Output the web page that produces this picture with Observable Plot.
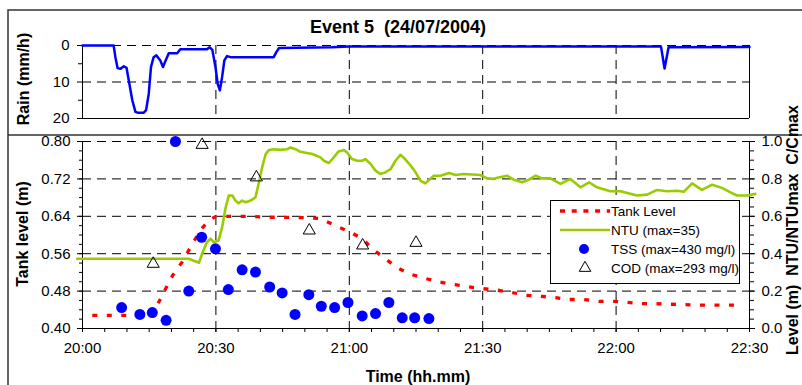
<!DOCTYPE html>
<html><head><meta charset="utf-8">
<script src="https://cdn.jsdelivr.net/npm/d3@7"></script>
<script src="https://cdn.jsdelivr.net/npm/@observablehq/plot@0.6"></script>
<style>
body{margin:0;background:#fff;}
#chart{position:relative;width:802px;height:385px;overflow:hidden;background:#fff;}
#chart svg{position:absolute;left:0;}
</style></head><body><div id="chart"></div>
<script>
// ---- data (minutes after 20:00) ----
const rainTime = [0, 7.0, 7.4, 7.9, 8.5, 9.3, 9.9, 10.4, 11.2, 11.9, 12.4, 13.8, 14.3, 14.9, 15.4, 16.0, 16.6, 17.5, 18.1, 18.7, 19.4, 21.3, 22.0, 28.0, 28.6, 29.2, 29.9, 30.4, 30.9, 31.4, 31.9, 32.5, 33.3, 43.0, 43.6, 44.2, 56.0, 60.0, 130.1, 130.9, 131.8, 150];
const rainValue = [0, 0, 3.2, 6.2, 6.4, 5.7, 6.1, 9.5, 15.0, 18.2, 18.4, 18.4, 17.7, 13.2, 5.9, 3.2, 2.7, 4.1, 5.9, 4.1, 2.1, 2.1, 1.0, 1.0, 0.5, 1.2, 5.9, 10.5, 12.3, 8.6, 4.1, 2.9, 3.2, 3.2, 1.8, 0.7, 0.5, 0.3, 0.3, 6.3, 0.5, 0.4];

const levelTime = [2.2, 15.3, 16.8, 18.7, 20.3, 22.4, 24.3, 26.5, 28.4, 30.0, 37.8, 40.8, 44.5, 50.6, 53.5, 56.9, 60.3, 62.9, 65.5, 68.1, 70.8, 73.8, 77.1, 80.5, 83.5, 86.9, 90.2, 93.3, 96.6, 99.8, 103.0, 106.4, 109.4, 112.7, 116.1, 119.5, 122.5, 125.6, 128.8, 132.0, 135.3, 138.6, 142.0, 145.0, 148.3];
const levelValue = [0.428, 0.428, 0.450, 0.485, 0.514, 0.542, 0.574, 0.610, 0.631, 0.640, 0.640, 0.638, 0.638, 0.637, 0.635, 0.620, 0.606, 0.592, 0.568, 0.549, 0.530, 0.516, 0.507, 0.499, 0.494, 0.489, 0.485, 0.482, 0.477, 0.471, 0.469, 0.466, 0.462, 0.462, 0.458, 0.458, 0.456, 0.453, 0.453, 0.452, 0.451, 0.450, 0.450, 0.450, 0.450];

const ntuTime = [-1.2, 23.9, 26.2, 26.9, 28.0, 28.8, 29.5, 30.6, 31.4, 32.2, 32.9, 33.7, 34.4, 35.1, 35.9, 36.7, 37.8, 38.9, 39.6, 40.4, 41.2, 41.9, 43.0, 44.5, 46.0, 46.8, 47.9, 49.0, 51.7, 53.5, 54.3, 55.4, 56.5, 57.6, 58.8, 59.5, 60.6, 61.8, 62.9, 63.6, 64.8, 65.9, 67.0, 68.1, 69.3, 70.4, 71.5, 72.3, 73.8, 74.9, 76.0, 77.1, 79.0, 80.5, 82.4, 83.9, 85.7, 89.5, 91.0, 92.4, 93.3, 95.5, 97.0, 98.9, 100.4, 101.9, 103.4, 105.2, 107.5, 109.7, 112.0, 113.9, 115.7, 118.7, 121.0, 124.7, 127.0, 129.2, 131.5, 133.7, 135.2, 137.1, 139.3, 141.6, 143.8, 145.7, 147.2, 149.5, 151.3];
const ntuValue = [0.373, 0.373, 0.352, 0.40, 0.462, 0.48, 0.462, 0.471, 0.542, 0.648, 0.711, 0.711, 0.684, 0.67, 0.684, 0.675, 0.684, 0.702, 0.773, 0.862, 0.933, 0.954, 0.959, 0.955, 0.959, 0.968, 0.959, 0.945, 0.933, 0.915, 0.897, 0.885, 0.915, 0.947, 0.954, 0.941, 0.906, 0.897, 0.897, 0.906, 0.88, 0.844, 0.826, 0.835, 0.853, 0.897, 0.929, 0.912, 0.871, 0.835, 0.791, 0.776, 0.817, 0.817, 0.831, 0.821, 0.826, 0.821, 0.803, 0.80, 0.806, 0.817, 0.796, 0.782, 0.796, 0.817, 0.803, 0.803, 0.773, 0.80, 0.755, 0.782, 0.755, 0.734, 0.734, 0.711, 0.716, 0.741, 0.734, 0.737, 0.731, 0.776, 0.741, 0.769, 0.752, 0.728, 0.711, 0.711, 0.72];

const tssTime = [8.8, 12.9, 15.7, 18.8, 20.9, 23.9, 26.8, 29.9, 32.8, 35.9, 38.9, 42.1, 44.9, 47.8, 50.9, 53.7, 56.7, 59.7, 62.9, 65.9, 68.9, 71.9, 74.7, 77.9];
const tssValue = [0.112, 0.075, 0.085, 0.044, 1.0, 0.2, 0.488, 0.426, 0.208, 0.314, 0.302, 0.222, 0.19, 0.075, 0.181, 0.119, 0.112, 0.139, 0.067, 0.08, 0.139, 0.057, 0.057, 0.053];

const codTime = [15.9, 26.9, 39.1, 51.0, 63.0, 75.0];
const codValue = [0.346, 0.982, 0.808, 0.524, 0.444, 0.458];

const timeTicks = [0, 30, 60, 90, 120, 150];
const timeTickLabels = ["20:00", "20:30", "21:00", "21:30", "22:00", "22:30"];
const levelTicks = [0.40, 0.48, 0.56, 0.64, 0.72, 0.80];
const levelTickLabels = ["0.40", "0.48", "0.56", "0.64", "0.72", "0.80"];
const ratioTicks = [0, 0.2, 0.4, 0.6, 0.8, 1.0];
const ratioTickLabels = ["0.0", "0.2", "0.4", "0.6", "0.8", "1.0"];
const rainTicks = [0, 10, 20];
const rainTickLabels = ["0", "10", "20"];

const title = "Event 5  (24/07/2004)";
const legendLabels = ["Tank Level", "NTU (max=35)", "TSS (max=430 mg/l)", "COD (max=293 mg/l)"];

// ---- build tables ----
const rain = rainTime.map((t, i) => ({t, v: rainValue[i]}));
const toRatio = m => (m - 0.40) / 0.40;
const level = levelTime.map((t, i) => ({t, v: toRatio(levelValue[i])}));
const ntu = ntuTime.map((t, i) => ({t, v: ntuValue[i]}));
const tss = tssTime.map((t, i) => ({t, v: tssValue[i]}));
const cod = codTime.map((t, i) => ({t, v: codValue[i]}));
const levelTickPos = levelTicks.map(toRatio);

const FONT = '"Liberation Sans", Arial, Helvetica, sans-serif';
const DASH = "9,6";
const gridStyle = {stroke: "#000", strokeOpacity: 1, strokeWidth: 1, strokeDasharray: DASH};
const baseStyle = {fontFamily: FONT, fontSize: "15px", color: "#000", background: "transparent", overflow: "visible"};
const GREEN = "#99cc00", RED = "#ff0000", BLUE = "#0000ff";

const chart = document.getElementById("chart");

// ---- top panel: rain ----
const topPlot = Plot.plot({
  width: 802, height: 135,
  marginLeft: 82, marginRight: 53, marginTop: 45, marginBottom: 17,
  style: baseStyle,
  x: {domain: [0, 150], axis: null},
  y: {domain: [0, 20], reverse: true, axis: null},
  marks: [
    Plot.gridY([0, 10], gridStyle),
    Plot.gridX([30, 60, 90, 120], gridStyle),
    Plot.ruleX([0], {stroke: "#000"}),
    Plot.ruleX([150], {stroke: "#000"}),
    Plot.ruleY([20], {stroke: "#000"}),
    Plot.axisY(rainTicks, {anchor: "left", tickSize: 5, tickPadding: 8, label: null,
      tickFormat: d => rainTickLabels[rainTicks.indexOf(d)]}),
    Plot.axisY([5, 15], {anchor: "left", tickSize: 4, label: null, tickFormat: () => ""}),
    Plot.line(rain, {x: "t", y: "v", stroke: BLUE, strokeWidth: 2.5, strokeLinejoin: "round"})
  ]
});
topPlot.style.top = "0px";
chart.appendChild(topPlot);

// ---- bottom panel ----
const minorY = d3.range(0, 1.0001, 0.05).map(d => +d.toFixed(2));
const minorX = d3.range(0, 151, 5);
const bottomPlot = Plot.plot({
  width: 802, height: 250,
  marginLeft: 82, marginRight: 53, marginTop: 6, marginBottom: 57,
  style: baseStyle,
  x: {domain: [0, 150], axis: null},
  y: {domain: [0, 1], axis: null},
  marks: [
    Plot.gridY([0.2, 0.4, 0.6, 0.8, 1.0], gridStyle),
    Plot.gridX([30, 60, 90, 120], gridStyle),
    Plot.ruleX([0], {stroke: "#000"}),
    Plot.ruleX([150], {stroke: "#000"}),
    Plot.ruleY([0], {stroke: "#000"}),
    Plot.axisY(levelTickPos, {anchor: "left", tickSize: 5, tickPadding: 7, label: null,
      tickFormat: d => levelTickLabels[levelTickPos.indexOf(d)]}),
    Plot.axisY(minorY, {anchor: "left", tickSize: 3, label: null, tickFormat: () => ""}),
    Plot.axisY(ratioTicks, {anchor: "right", tickSize: 5, tickPadding: 7, label: null,
      tickFormat: d => ratioTickLabels[ratioTicks.indexOf(d)]}),
    Plot.axisY(minorY, {anchor: "right", tickSize: 4, label: null, tickFormat: () => ""}),
    Plot.axisX(timeTicks, {anchor: "bottom", tickSize: 4, tickPadding: 10, label: null,
      tickFormat: d => timeTickLabels[timeTicks.indexOf(d)]}),
    Plot.axisX(minorX, {anchor: "bottom", tickSize: 4, label: null, tickFormat: () => ""}),
    Plot.line(level, {x: "t", y: "v", stroke: RED, strokeWidth: 3.3, strokeDasharray: "5,9.5", strokeLinecap: "butt"}),
    Plot.line(ntu, {x: "t", y: "v", stroke: GREEN, strokeWidth: 2.6, strokeLinejoin: "round"}),
    Plot.dot(tss, {x: "t", y: "v", r: 5.5, fill: BLUE, stroke: "none"}),
    Plot.dot(cod, {x: "t", y: "v", r: 4.5, symbol: "triangle", fill: "none", stroke: "#000", strokeWidth: 1})
  ]
});
bottomPlot.style.top = "135px";
chart.appendChild(bottomPlot);

// ---- overlay: frame, title, axis titles, legend ----
const ov = d3.create("svg").attr("width", 802).attr("height", 385)
  .style("top", "0px").style("font-family", FONT).style("pointer-events", "none");
ov.append("path").attr("d", "M8,385V10H802M8,135H802")
  .attr("fill", "none").attr("stroke", "#333").attr("stroke-width", 1.5);
ov.append("text").attr("x", 398).attr("y", 33).attr("text-anchor", "middle")
  .attr("font-weight", "bold").attr("font-size", 18).style("white-space", "pre").text(title);
function vlabel(x, y, txt) {
  ov.append("text").attr("transform", `translate(${x},${y}) rotate(-90)`)
    .attr("text-anchor", "middle").attr("dy", "0.35em").attr("font-weight", "bold")
    .attr("font-size", 16).style("white-space", "pre").text(txt);
}
vlabel(23, 79, "Rain (mm/h)");
vlabel(22, 234, "Tank level (m)");
vlabel(792, 230, "Level (m)  NTU/NTUmax  C/Cmax");
ov.append("text").attr("x", 418).attr("y", 382).attr("text-anchor", "middle")
  .attr("font-weight", "bold").attr("font-size", 16).text("Time (hh.mm)");

const lg = ov.append("g");
lg.append("rect").attr("x", 550.5).attr("y", 200.5).attr("width", 189).attr("height", 83)
  .attr("fill", "#fff").attr("stroke", "#000").attr("stroke-width", 1);
const rowY = [211, 230, 249, 268];
lg.append("line").attr("x1", 560).attr("x2", 610).attr("y1", rowY[0]).attr("y2", rowY[0])
  .attr("stroke", RED).attr("stroke-width", 3.3).attr("stroke-dasharray", "5,6.7");
lg.append("line").attr("x1", 560).attr("x2", 610).attr("y1", rowY[1]).attr("y2", rowY[1])
  .attr("stroke", GREEN).attr("stroke-width", 2.6);
lg.append("circle").attr("cx", 584).attr("cy", rowY[2]).attr("r", 5).attr("fill", BLUE);
lg.append("path").attr("transform", `translate(585,${rowY[3]})`)
  .attr("d", d3.symbol(d3.symbolTriangle, Math.PI * 4.3 * 4.3)())
  .attr("fill", "none").attr("stroke", "#000");
legendLabels.forEach((s, i) => {
  lg.append("text").attr("x", 611).attr("y", rowY[i]).attr("dy", "0.35em")
    .attr("font-size", 13.5).text(s);
});
chart.appendChild(ov.node());
</script></body></html>
